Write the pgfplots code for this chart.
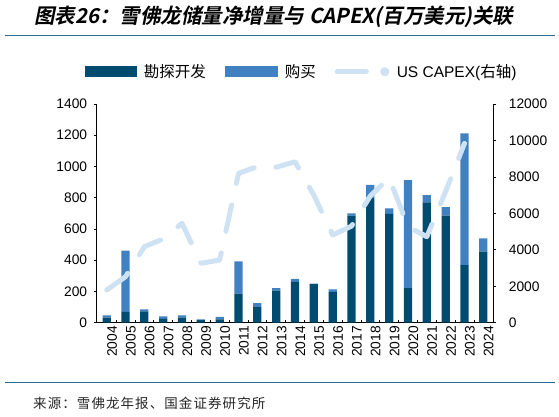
\documentclass[border=0pt]{standalone}
\usepackage{pgfplots}
\pgfplotsset{compat=1.18}
\usepackage{fontspec}
\setmainfont{Liberation Sans}
\newfontfamily\cjk{Noto Sans CJK SC}
\newfontfamily\cjksrc{Noto Sans CJK SC}[LetterSpace=8]
\newfontfamily\cjktitle{Noto Sans CJK SC Bold}[FakeSlant=0.2]

\definecolor{darkbar}{HTML}{004B70}
\definecolor{lightbar}{HTML}{4181C1}
\definecolor{capex}{HTML}{CFE2F3}
\definecolor{rulecol}{HTML}{2C6C90}

\pgfplotstableread{
yr  explore buy  capex
0   32   15   1794
1   70   391  2524
2   73   12   4170
3   25   15   4600
4   32   15   5454
5   17   4    3259
6   21   17   3440
7   186  207  8200
8   100  26   8560
9   205  17   8530
10  262  18   8830
11  247  3    7000
12  196  17   4810
13  685  15   5300
14  800  83   6950
15  696  36   7950
16  222  691  5270
17  770  47   4720
18  685  55   7200
19  369  843  9840
20  455  85   nan
}\chevron

\begin{document}
\begin{tikzpicture}[x=1pt,y=1pt]
\path[use as bounding box] (0,0) rectangle (559,416);

% title and rules
\node[anchor=west, inner sep=0pt] at (34,399)
  {\cjktitle\fontsize{20.5}{24}\selectfont 图表26：雪佛龙储量净增量与 CAPEX(百万美元)关联};
\draw[rulecol, line width=1.3pt] (5,380.2) -- (555,380.2);
\draw[rulecol, line width=1.3pt] (5,33.3) -- (555,33.3);
\node[anchor=west, inner sep=0pt, text=black!85] at (33,13)
  {\cjksrc\fontsize{13.5}{15}\selectfont 来源：雪佛龙年报、国金证券研究所};

\pgfplotsset{
  every axis/.append style={
    at={(96.7pt,93.3pt)}, anchor=south west,
    scale only axis, width=396.6pt, height=218.7pt,
    xmin=-0.53, xmax=20.53,
    tick align=inside, major tick length=3pt, minor tick length=3pt,
    axis line style={black, line width=0.8pt},
    tick style={black, line width=0.8pt},
    ticklabel style={font=\fontsize{13.8}{16}\selectfont},
    /pgf/number format/assume math mode=true,
    /pgf/number format/1000 sep={},
  },
}

\begin{axis}[
  ybar stacked, bar width=8.3pt,
  ymin=0, ymax=1400, ytick={0,200,...,1400},
  axis x line*=bottom, axis y line*=left,
  ytick style={xshift=-3pt},
  yticklabel style={xshift=-6pt},
  xtick={0,...,20},
  xticklabels={2004,2005,2006,2007,2008,2009,2010,2011,2012,2013,2014,2015,2016,2017,2018,2019,2020,2021,2022,2023,2024},
  xticklabel style={rotate=90, anchor=east, yshift=-5.4pt},
  major x tick style={draw=none},
  minor xtick={0.5,1.5,...,19.5},
]
\addplot[fill=darkbar, draw=none] table[x=yr, y=explore] {\chevron};
\addplot[fill=lightbar, draw=none] table[x=yr, y=buy] {\chevron};
\end{axis}

\begin{axis}[
  ymin=0, ymax=12000, ytick={0,2000,...,12000},
  scaled y ticks=false,
  axis x line=none, axis y line*=right,
  ytick style={xshift=3pt},
  yticklabel style={xshift=12pt},
  legend columns=3,
  legend style={at={(-0.0295,1.1477)}, anchor=west, draw=none, fill=none,
    inner sep=0pt, outer sep=0pt,
    font=\fontsize{15.5}{18}\selectfont, nodes={inner sep=0pt},
    /tikz/every odd column/.append style={column sep=7.5pt},
    /tikz/every even column/.append style={column sep=19pt}},
]
\addlegendimage{darkbar,
  legend image code/.code={\fill[darkbar] (0pt,-5pt) rectangle (51pt,5pt);}}
\addlegendentry{\cjk 勘探开发}
\addlegendimage{lightbar,
  legend image code/.code={\fill[lightbar] (0pt,-5pt) rectangle (52pt,5pt);}}
\addlegendentry{\cjk 购买}
\addplot[capex, mark=none, line width=5pt, line cap=round, line join=round,
  dash pattern=on 27pt off 22pt, unbounded coords=jump,
  legend image code/.code={\path[draw=none, fill=none] (0pt,-5pt) rectangle (52pt,5pt);
    \draw[capex, solid, fill=none, line width=5pt, line cap=round] (2.5pt,0pt) -- (31.5pt,0pt);
    \fill[capex] (50pt,0pt) circle (2pt);}]
  table[x=yr, y=capex] {\chevron};
\addlegendentry{US CAPEX({\cjk 右轴})}
\end{axis}
\end{tikzpicture}
\end{document}
